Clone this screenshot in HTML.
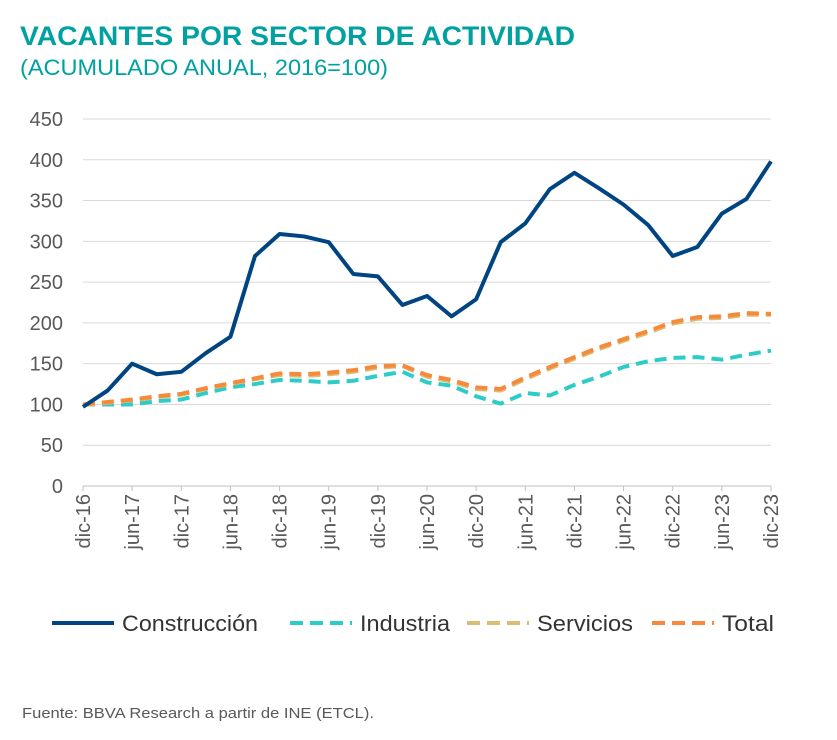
<!DOCTYPE html>
<html><head><meta charset="utf-8"><style>
body{margin:0;background:#fff;font-family:"Liberation Sans",sans-serif;}
svg text{font-family:"Liberation Sans",sans-serif;}
</style></head><body>
<svg id="c" width="837" height="735" xmlns="http://www.w3.org/2000/svg">
<text x="20" y="45" font-size="27" font-weight="bold" fill="#00a1a0" textLength="555" lengthAdjust="spacingAndGlyphs">VACANTES POR SECTOR DE ACTIVIDAD</text>
<text x="20" y="75" font-size="22" fill="#00a1a0" textLength="368" lengthAdjust="spacingAndGlyphs">(ACUMULADO ANUAL, 2016=100)</text>
<g id="grid"></g><g id="axes"></g><g id="series"></g><g id="legend"></g>
<text x="22" y="718" font-size="15" fill="#595959" textLength="352" lengthAdjust="spacingAndGlyphs">Fuente: BBVA Research a partir de INE (ETCL).</text>
</svg>
<script>
const yTicks=[0,50,100,150,200,250,300,350,400,450];
const xLabels=["dic-16","jun-17","dic-17","jun-18","dic-18","jun-19","dic-19","jun-20","dic-20","jun-21","dic-21","jun-22","dic-22","jun-23","dic-23"];
const construccion=[97,117,150,137,140,163,183,282,309,306,299,260,257,222,233,208,229,299,322,364,384,365,345,320,282,293,334,352,398];
const industria=[100,100,100,104,106,114,121,125,130,129,127,129,135,140,127,123,110,101,114,111,124,134,146,153,157,158,155,161,166];
const servicios=[99,102,105,109,112,119,125,131,136,135,137,140,145,147,134,128,119,117,131,144,156,168,178,188,199,205,206,210,210];
const total=[100,103,106,110,113,120,126,132,138,137,139,142,147,148,136,130,121,119,133,146,158,170,180,190,201,207,208,212,211];
const NS="http://www.w3.org/2000/svg";
const x0=83,x1=771,y0=486,y1=119;
const n=construccion.length;
const X=i=>x0+(x1-x0)*i/(n-1);
const Y=v=>y0-(y0-y1)*v/450;
function mk(t,a,p){const e=document.createElementNS(NS,t);for(const k in a)e.setAttribute(k,a[k]);p.appendChild(e);return e;}
const grid=document.getElementById('grid'),axes=document.getElementById('axes'),ser=document.getElementById('series'),leg=document.getElementById('legend');
yTicks.forEach(v=>{
  if(v>0){const l=mk('line',{x1:x0,x2:x1,y1:Y(v),y2:Y(v),stroke:'#d9d9d9','stroke-width':1},grid);
  
  }
  const t=mk('text',{x:63,y:Y(v)+7,'text-anchor':'end','font-size':20,fill:'#595959'},axes);t.textContent=v;
  
  
});
const ax=mk('line',{x1:x0,x2:x1,y1:y0,y2:y0,stroke:'#bfbfbf','stroke-width':1},axes);


xLabels.forEach((s,k)=>{
  const xx=X(k*2);
  const tk=mk('line',{x1:xx,x2:xx,y1:y0,y2:y0+5,stroke:'#bfbfbf'},axes);
  
  
  const t=mk('text',{x:0,y:0,'text-anchor':'end','font-size':20,fill:'#595959',transform:`translate(${xx+7},${y0+8}) rotate(-90)`},axes);t.textContent=s;
  
  
});
const S=[["Construcción",construccion,'#004481',null,'construccion'],["Industria",industria,'#2dccc8','12 7','industria'],["Servicios",servicios,'#d8be75','12 7','servicios'],["Total",total,'#f7893b','12 7','total']];
[1,2,3,0].forEach(j=>{const s=S[j];
  const p=mk('polyline',{points:s[1].map((v,i)=>X(i)+','+Y(v)).join(' '),fill:'none',stroke:s[2],'stroke-width':4,'stroke-linejoin':'round'},ser);
  if(s[3])p.setAttribute('stroke-dasharray',s[3]);
  
  
});
const lx=[52,290,467,652];
const tw=[136,90,96,52];
S.forEach((s,j)=>{
  const g=mk('g',{},leg);
  
  
  const l=mk('line',{x1:lx[j],x2:lx[j]+62,y1:623,y2:623,stroke:s[2],'stroke-width':4},g);
  if(s[3])l.setAttribute('stroke-dasharray','13 7');
  const t=mk('text',{x:lx[j]+70,y:631,'font-size':22,fill:'#333',textLength:tw[j],lengthAdjust:'spacingAndGlyphs'},g);t.textContent=s[0];
});
</script>
</body></html>
